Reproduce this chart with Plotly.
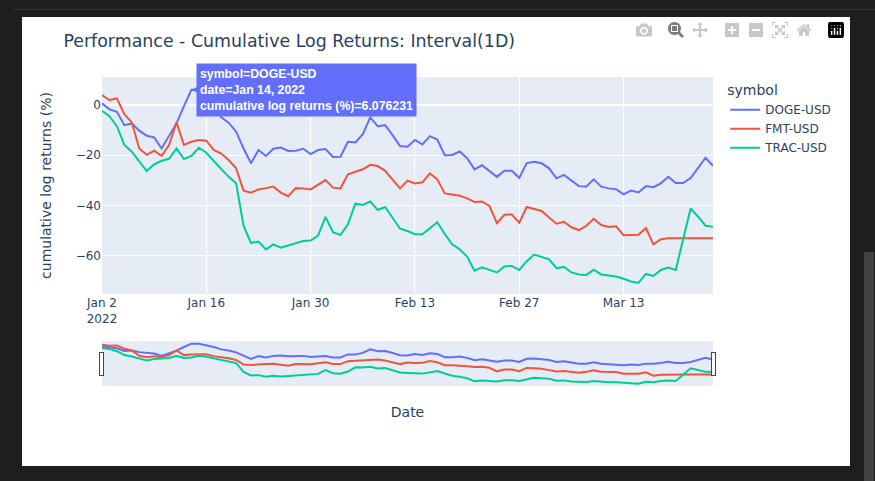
import pandas as pd
import plotly.graph_objects as go

dates = pd.date_range('2022-01-02', '2022-03-25', freq='D')

doge_usd = [
    0.7, -1.7, -2.7, -8.0, -7.3, -10.2, -12.2, -12.9, -17.3, -12.4,
    -7.3, -0.4, 6.076231, 6.0, 3.0, -0.5, -4.9, -7.0, -10.6, -17.3,
    -23.2, -17.9, -20.3, -17.4, -16.9, -18.3, -18.2, -17.4, -19.5, -17.9,
    -17.5, -20.7, -20.6, -14.6, -14.9, -11.6, -4.9, -8.4, -8.0, -12.0,
    -16.3, -16.6, -13.9, -15.7, -12.4, -13.7, -20.0, -19.9, -18.5, -21.2,
    -25.6, -24.0, -26.3, -28.6, -26.2, -26.2, -29.0, -23.1, -22.6, -23.2,
    -25.2, -29.2, -27.8, -30.1, -32.3, -32.4, -29.6, -32.5, -33.2, -33.5,
    -35.6, -34.1, -34.8, -32.3, -32.7, -31.2, -28.6, -31.1, -31.1, -29.1,
    -24.8, -21.0, -24.2,
]
fmt_usd = [
    4.0, 2.0, 2.7, -3.6, -6.9, -17.3, -19.8, -18.2, -20.2, -15.9,
    -6.9, -15.9, -14.6, -13.9, -14.2, -17.9, -19.3, -21.9, -25.2, -34.1,
    -34.9, -33.6, -33.1, -32.5, -34.9, -36.3, -33.1, -33.2, -33.6, -31.6,
    -29.9, -32.9, -33.2, -27.6, -26.7, -25.6, -23.8, -24.3, -26.2, -29.9,
    -33.2, -30.1, -31.2, -30.8, -27.2, -29.6, -35.2, -35.6, -36.1, -37.2,
    -38.6, -38.4, -40.2, -47.1, -43.7, -43.6, -46.9, -40.6, -41.4, -42.2,
    -44.8, -47.3, -46.5, -48.7, -49.8, -48.1, -45.3, -47.8, -48.6, -48.3,
    -51.9, -51.9, -51.7, -49.0, -55.5, -53.5, -53.1, -53.1, -53.1, -53.1,
    -53.1, -53.1, -53.1,
]
trac_usd = [
    -2.3, -4.4, -8.4, -15.9, -18.6, -22.3, -26.3, -23.6, -22.2, -21.4,
    -17.3, -21.5, -20.3, -17.0, -19.0, -22.3, -25.6, -28.6, -31.2, -48.1,
    -55.0, -54.4, -57.5, -55.5, -56.8, -55.9, -54.8, -54.2, -54.0, -52.0,
    -44.6, -50.7, -51.8, -47.5, -39.3, -39.8, -38.4, -41.8, -40.6, -44.8,
    -49.3, -50.2, -51.5, -51.5, -49.1, -46.7, -51.4, -55.5, -57.5, -60.4,
    -66.0, -64.7, -65.7, -66.7, -64.3, -64.1, -65.7, -62.2, -59.6, -60.4,
    -61.5, -65.0, -64.5, -66.7, -67.5, -67.7, -65.6, -67.5, -68.0, -68.3,
    -69.2, -70.3, -70.9, -67.3, -68.1, -65.7, -64.8, -65.7, -53.4, -41.2,
    -44.5, -48.1, -48.5,
]

fig = go.Figure()
fig.add_trace(go.Scatter(x=dates, y=doge_usd, mode='lines', name='DOGE-USD', line=dict(color='#636efa')))
fig.add_trace(go.Scatter(x=dates, y=fmt_usd, mode='lines', name='FMT-USD', line=dict(color='#EF553B')))
fig.add_trace(go.Scatter(x=dates, y=trac_usd, mode='lines', name='TRAC-USD', line=dict(color='#00cc96')))

# the frozen hover label from the screenshot: pointer first, box on top of it
fig.add_annotation(
    x='2022-01-14',
    y=6.076231,
    text=' ',
    showarrow=True,
    arrowcolor='#636efa',
    arrowhead=2,
    arrowwidth=2,
    arrowsize=3,
    ax=14,
    ay=0,
)
fig.add_annotation(
    x='2022-01-14',
    y=6.076231,
    text='<b>symbol=DOGE-USD<br>date=Jan 14, 2022<br>cumulative log returns (%)=6.076231</b>',
    align='left',
    font=dict(family='Liberation Sans, Arial', size=12.3, color='white'),
    bgcolor='#636efa',
    borderpad=3,
    showarrow=False,
    xshift=115.5,
)

fig.update_layout(
    template='plotly',
    width=828,
    height=449,
    margin=dict(t=60, l=80, r=137, b=80),
    font_family='DejaVu Sans',
    title=dict(text='Performance - Cumulative Log Returns: Interval(1D)', font_size=17.4),
    legend_title_text='symbol',
    xaxis=dict(
        title=dict(text='Date', standoff=30),
        rangeslider=dict(visible=True, bgcolor='#E5ECF6', thickness=0.147),
    ),
    yaxis=dict(title=dict(text='cumulative log returns (%)', standoff=20), range=[-75.3, 11.2]),
)

# dark editor window around the chart, as in the screenshot
page_style = """
document.documentElement.style.background = '#1e1e1e';
document.body.style.background = '#1e1e1e';
document.body.style.margin = '17px 0 0 22px';
document.body.style.overflow = 'hidden';
function bar(left, top, width, height, color) {
    var d = document.createElement('div');
    d.style.cssText = 'position:fixed;left:' + left + 'px;top:' + top + 'px;width:' + width +
        'px;height:' + height + 'px;background:' + color;
    document.body.appendChild(d);
}
bar(14, 9, 861, 1, '#3a3a3a');
bar(864, 252, 10, 229, '#424242');
"""

fig.write_html('out.html', config={'displayModeBar': True}, post_script=page_style)
